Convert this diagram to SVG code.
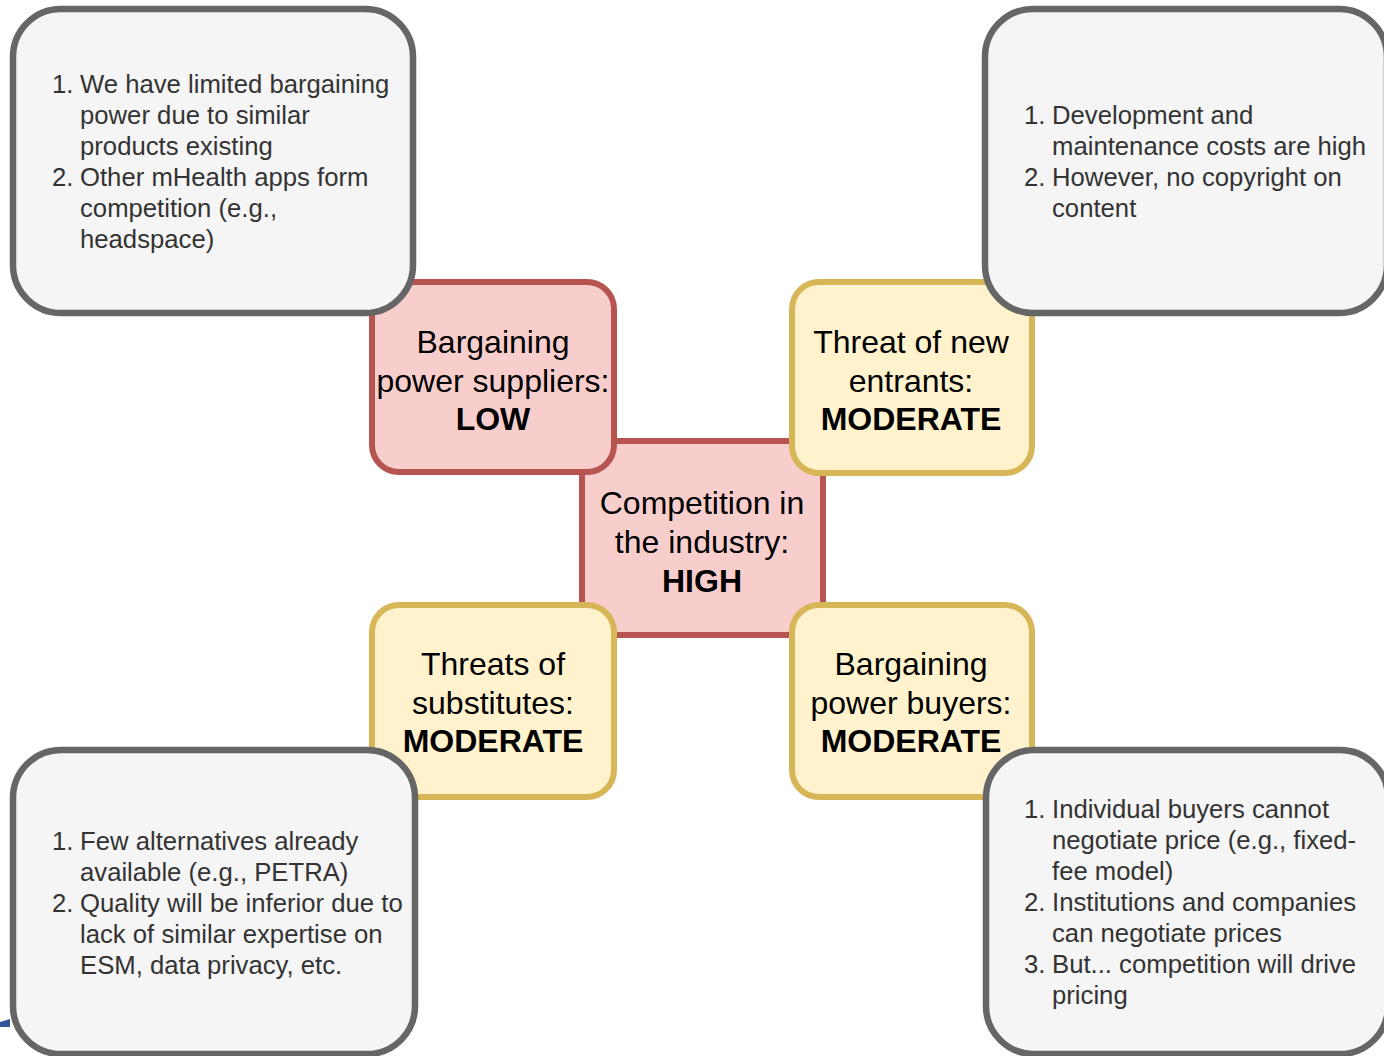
<svg xmlns="http://www.w3.org/2000/svg" width="1384" height="1056" viewBox="0 0 1384 1056">
<style>
.red{fill:#f8cecc;stroke:#b85450;stroke-width:6}
.yel{fill:#fff2cc;stroke:#d6b656;stroke-width:6}
.gry{fill:#f5f5f5;stroke:#666666;stroke-width:6.5}
.t{font-family:"Liberation Sans",Arial,sans-serif;font-size:32px;fill:#000;text-anchor:middle}
.b{font-weight:bold}
.n{font-family:"Liberation Sans",Arial,sans-serif;font-size:25.7px;fill:#333333}
</style>
<rect width="1384" height="1056" fill="#ffffff"/>
<g id="connectors">
<polygon points="0,1022 10,1019 10,1027 0,1027" fill="#2f5597"/>
</g>
<g id="center">
<rect class="red" x="582" y="441" width="241" height="194"/>
<text class="t" x="702" y="514">Competition in</text>
<text class="t" x="702" y="553">the industry:</text>
<text class="t b" x="702" y="592">HIGH</text>
</g>
<g id="suppliers">
<rect class="red" x="372" y="282" width="242" height="190" rx="27"/>
<text class="t" x="493" y="353">Bargaining</text>
<text class="t" x="493" y="392">power suppliers:</text>
<text class="t b" x="493" y="430">LOW</text>
</g>
<g id="entrants">
<rect class="yel" x="792" y="282" width="240" height="191" rx="27"/>
<text class="t" x="911" y="353">Threat of new</text>
<text class="t" x="911" y="392">entrants:</text>
<text class="t b" x="911" y="430">MODERATE</text>
</g>
<g id="substitutes">
<rect class="yel" x="372" y="605" width="242" height="192" rx="27"/>
<text class="t" x="493" y="675">Threats of</text>
<text class="t" x="493" y="714">substitutes:</text>
<text class="t b" x="493" y="752">MODERATE</text>
</g>
<g id="buyers">
<rect class="yel" x="792" y="605" width="240" height="192" rx="27"/>
<text class="t" x="911" y="675">Bargaining</text>
<text class="t" x="911" y="714">power buyers:</text>
<text class="t b" x="911" y="752">MODERATE</text>
</g>
<g id="note-suppliers">
<rect class="gry" x="13" y="9" width="400" height="304" rx="48"/>
<text class="n" x="52" y="93">1.</text><text class="n" x="80" y="93">We have limited bargaining</text>
<text class="n" x="80" y="124">power due to similar</text>
<text class="n" x="80" y="155">products existing</text>
<text class="n" x="52" y="186">2.</text><text class="n" x="80" y="186">Other mHealth apps form</text>
<text class="n" x="80" y="217">competition (e.g.,</text>
<text class="n" x="80" y="248">headspace)</text>
</g>
<g id="note-entrants">
<rect class="gry" x="985" y="9" width="402" height="304" rx="48"/>
<text class="n" x="1024" y="124">1.</text><text class="n" x="1052" y="124">Development and</text>
<text class="n" x="1052" y="155">maintenance costs are high</text>
<text class="n" x="1024" y="186">2.</text><text class="n" x="1052" y="186">However, no copyright on</text>
<text class="n" x="1052" y="217">content</text>
</g>
<g id="note-substitutes">
<rect class="gry" x="13" y="750" width="402" height="304" rx="48"/>
<text class="n" x="52" y="850">1.</text><text class="n" x="80" y="850">Few alternatives already</text>
<text class="n" x="80" y="881">available (e.g., PETRA)</text>
<text class="n" x="52" y="912">2.</text><text class="n" x="80" y="912">Quality will be inferior due to</text>
<text class="n" x="80" y="943">lack of similar expertise on</text>
<text class="n" x="80" y="974">ESM, data privacy, etc.</text>
</g>
<g id="note-buyers">
<rect class="gry" x="986" y="750" width="402" height="304" rx="48"/>
<text class="n" x="1024" y="818">1.</text><text class="n" x="1052" y="818">Individual buyers cannot</text>
<text class="n" x="1052" y="849">negotiate price (e.g., fixed-</text>
<text class="n" x="1052" y="880">fee model)</text>
<text class="n" x="1024" y="911">2.</text><text class="n" x="1052" y="911">Institutions and companies</text>
<text class="n" x="1052" y="942">can negotiate prices</text>
<text class="n" x="1024" y="973">3.</text><text class="n" x="1052" y="973">But... competition will drive</text>
<text class="n" x="1052" y="1004">pricing</text>
</g>
</svg>
